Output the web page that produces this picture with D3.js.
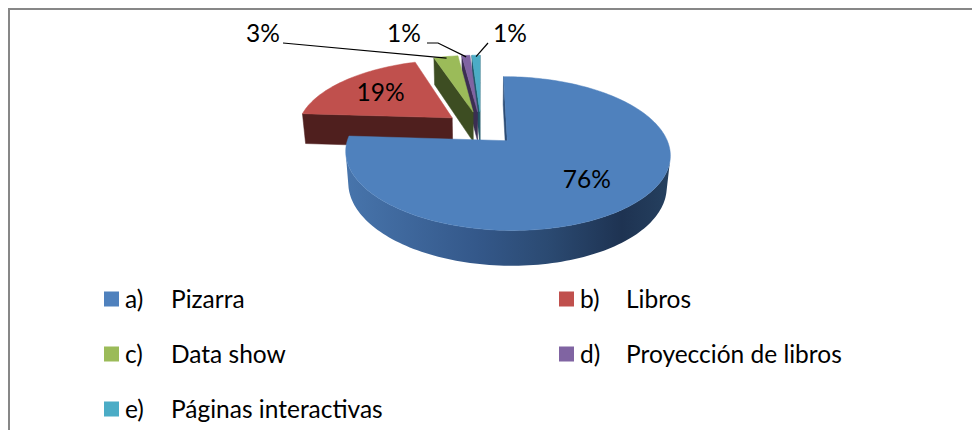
<!DOCTYPE html>
<html>
<head>
<meta charset="utf-8">
<script src="https://cdn.jsdelivr.net/npm/d3@7"></script>
<style>
  body { margin: 0; background: #fff; }
  svg { display: block; }
  text { font-family: Lato, sans-serif; fill: #000; }
</style>
</head>
<body>
<svg width="972" height="430"></svg>
<script>
const letters = ['a)', 'b)', 'c)', 'd)', 'e)'];
const categories = ['Pizarra', 'Libros', 'Data show', 'Proyección de libros', 'Páginas interactivas'];
const values = [76, 19, 3, 1, 1];
const labels = ['76%', '19%', '3%', '1%', '1%'];

const topColors = ['#4F81BD', '#C0504D', '#9BBB59', '#8064A2', '#4BACC6'];
const wallColors = ['#2c4c75', '#4f1f1e', '#3d4d22', '#3b2e52', '#1f5666'];

const svg = d3.select('svg');

// chart frame (only the top/left edges are in view)
svg.append('rect')
  .attr('x', 9).attr('y', 9).attr('width', 1100).attr('height', 600)
  .attr('fill', 'none').attr('stroke', '#878787').attr('stroke-width', 2);

// simple perspective camera for the 3D pie
const cam = { x0: 481, y0: 128, f: 855, D: 5.5, tilt: 27 * Math.PI / 180 };
const sinT = Math.sin(cam.tilt);
const cosT = Math.cos(cam.tilt);
const camPos = [0, cam.D * cosT, cam.D * sinT];
const thick = 0.225;
const explode = 0.24;

function project(u, v, h) {
  const d = cam.D - v * cosT - h * sinT;
  const up = -v * sinT + h * cosT;
  return [cam.x0 + cam.f * u / d, cam.y0 - cam.f * up / d];
}
function facing(n, p) {
  return n[0] * (camPos[0] - p[0]) + n[1] * (camPos[1] - p[1]) + n[2] * (camPos[2] - p[2]) > 0;
}

const line = d3.line().curve(d3.curveLinearClosed);

const arcs = d3.pie().sort(null).value(d => d)(values).map((a, i) => {
  const mid = (a.startAngle + a.endAngle) / 2;
  const ou = explode * Math.sin(mid);
  const ov = -explode * Math.cos(mid);
  const rim = (ang, r, h) => [ou + r * Math.sin(ang), ov - r * Math.cos(ang), h];
  return { ...a, i, mid, ou, ov, rim, depth: ov - 0.5 * Math.cos(mid) };
});

const defs = svg.append('defs');
const grad = defs.append('linearGradient')
  .attr('id', 'blueSide').attr('gradientUnits', 'userSpaceOnUse')
  .attr('x1', 348).attr('x2', 670).attr('y1', 0).attr('y2', 0);
[[0, '#4774ab'], [0.4, '#34588a'], [0.62, '#2b4a72'], [0.85, '#1e3352'], [1, '#25405f']]
  .forEach(([o, c]) => grad.append('stop').attr('offset', o).attr('stop-color', c));

const pieG = svg.append('g');

arcs.slice().sort((a, b) => a.depth - b.depth).forEach((s) => {
  const g = pieG.append('g');
  const a0 = s.startAngle;
  const a1 = s.endAngle;
  const steps = Math.max(2, Math.ceil((a1 - a0) / (Math.PI / 120)));
  const angs = d3.range(steps + 1).map(k => a0 + (a1 - a0) * k / steps);
  const apexTop = [s.ou, s.ov, 0];
  const apexBot = [s.ou, s.ov, -thick];

  // radial walls
  [[a0, [-Math.cos(a0), -Math.sin(a0), 0]], [a1, [Math.cos(a1), Math.sin(a1), 0]]].forEach(([ang, n]) => {
    const rt = s.rim(ang, 1, 0);
    const midP = [(rt[0] + s.ou) / 2, (rt[1] + s.ov) / 2, -thick / 2];
    if (!facing(n, midP)) return;
    const pts = [apexTop, rt, s.rim(ang, 1, -thick), apexBot].map(p => project(...p));
    g.append('path').attr('d', line(pts)).attr('fill', wallColors[s.i])
      .attr('stroke', wallColors[s.i]).attr('stroke-width', 0.5);
  });

  // outer rim, visible runs only
  const runs = [];
  let run = null;
  for (let k = 0; k < steps; k++) {
    const am = (angs[k] + angs[k + 1]) / 2;
    const vis = facing([Math.sin(am), -Math.cos(am), 0], s.rim(am, 1, -thick / 2));
    if (vis) {
      if (!run) { run = [angs[k]]; runs.push(run); }
      run.push(angs[k + 1]);
    } else run = null;
  }
  runs.forEach((r) => {
    const topPts = r.map(ang => project(...s.rim(ang, 1, 0)));
    const botPts = r.slice().reverse().map(ang => project(...s.rim(ang, 1, -thick)));
    g.append('path').attr('d', line(topPts.concat(botPts)))
      .attr('fill', s.i === 0 ? 'url(#blueSide)' : wallColors[s.i]);
  });

  // top face
  const facePts = [project(...apexTop)].concat(angs.map(ang => project(...s.rim(ang, 1, 0))));
  g.append('path').attr('d', line(facePts)).attr('fill', topColors[s.i])
    .attr('stroke', topColors[s.i]).attr('stroke-width', 0.5);
});

// data labels inside the two big slices
const labelSize = 24.5;
arcs.filter(s => s.i < 2).forEach((s) => {
  const p = project(...s.rim(s.mid, 0.65, 0));
  svg.append('text').attr('x', p[0]).attr('y', p[1]).attr('dy', '0.36em')
    .attr('text-anchor', 'middle').attr('font-size', labelSize).text(labels[s.i]);
});

// outside labels with leader lines for the small slices
const outerLabelPos = [[263, 42], [404, 42], [510, 42]];
const leaderStart = [[[283, 43]], [[427, 43], [438, 43]], [[488, 43]]];
arcs.filter(s => s.i >= 2).forEach((s, j) => {
  const [lx, ly] = outerLabelPos[j];
  svg.append('text').attr('x', lx).attr('y', ly).attr('text-anchor', 'middle')
    .attr('font-size', labelSize).text(labels[s.i]);
  const end = project(...s.rim(s.mid, 0.97, 0));
  svg.append('path').attr('d', d3.line()(leaderStart[j].concat([end])))
    .attr('fill', 'none').attr('stroke', '#000').attr('stroke-width', 1.2);
});

// legend
const legendCols = [104, 559];
const legendRow0 = 299;
const legendRowStep = 55;
const legendSize = 24.5;
categories.forEach((c, i) => {
  const x = legendCols[i % 2];
  const y = legendRow0 + legendRowStep * Math.floor(i / 2);
  const g = svg.append('g');
  g.append('rect').attr('x', x).attr('y', y - 7.5).attr('width', 15).attr('height', 15)
    .attr('fill', topColors[i]);
  g.append('text').attr('x', x + 21).attr('y', y + 8.5).attr('font-size', legendSize).text(letters[i]);
  g.append('text').attr('x', x + 67).attr('y', y + 8.5).attr('font-size', legendSize).text(c);
});
</script>
</body>
</html>
